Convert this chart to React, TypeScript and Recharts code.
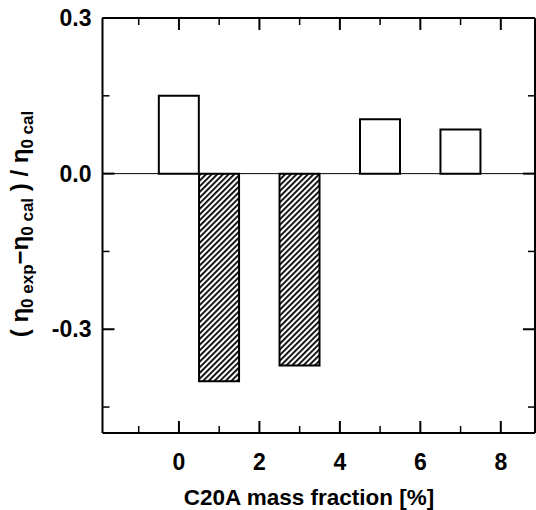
import React from 'react';
import { BarChart, Bar, Cell, XAxis, YAxis, ReferenceLine, Label } from 'recharts';

// C20A content [%] and relative deviation of zero-shear viscosity
const fractions: number[] = [0, 1, 3, 5, 7];
const deviations: number[] = [0.15, -0.40, -0.37, 0.105, 0.085];

const xTicks: number[] = [-1, 0, 1, 2, 3, 4, 5, 6, 7, 8];
const xLabels: number[] = [0, 2, 4, 6, 8];
const yTicks: number[] = [0.3, 0.15, 0, -0.15, -0.3, -0.45];
const yLabels: number[] = [0.3, 0, -0.3];

const data = fractions.map((f, i) => ({ x: f, v: deviations[i] }));

const FONT = 'Liberation Sans, Arial, sans-serif';

const isMajor = (v: number, list: number[]) => list.some(l => Math.abs(l - v) < 1e-9);

// ticks point into the plot, labels sit outside
const BottomTick = (props: any) => {
    const { x, y, payload } = props;
    const major = isMajor(payload.value, xLabels);
    return (
        <g>
            <line x1={x} x2={x} y1={y} y2={y - (major ? 12 : 7)} stroke="#000" strokeWidth={major ? 2 : 1.5} />
            {major && (
                <text x={x} y={y + 37} textAnchor="middle" fontFamily={FONT} fontWeight="bold" fontSize={23} fill="#000">
                    {payload.value}
                </text>
            )}
        </g>
    );
};

const TopTick = (props: any) => {
    const { x, y, payload } = props;
    const major = isMajor(payload.value, xLabels);
    return <line x1={x} x2={x} y1={y} y2={y + (major ? 12 : 7)} stroke="#000" strokeWidth={major ? 2 : 1.5} />;
};

const LeftTick = (props: any) => {
    const { x, y, payload } = props;
    const major = isMajor(payload.value, yLabels);
    return (
        <g>
            <line x1={x} x2={x + (major ? 12 : 7)} y1={y} y2={y} stroke="#000" strokeWidth={major ? 2 : 1.5} />
            {major && (
                <text x={x - 11} y={y + 8} textAnchor="end" fontFamily={FONT} fontWeight="bold" fontSize={23} fill="#000">
                    {payload.value.toFixed(1)}
                </text>
            )}
        </g>
    );
};

const RightTick = (props: any) => {
    const { x, y, payload } = props;
    const major = isMajor(payload.value, yLabels);
    return <line x1={x} x2={x - (major ? 12 : 7)} y1={y} y2={y} stroke="#000" strokeWidth={major ? 2 : 1.5} />;
};

const YTitle = () => (
    <text transform="translate(28,224) rotate(-90)" textAnchor="middle" fontFamily={FONT} fontWeight="bold" fontSize={24} fill="#000"
        style={{ whiteSpace: 'pre' }}>
        <tspan>( η</tspan>
        <tspan fontSize={17} dy={5}>0 exp</tspan>
        <tspan dy={-5}>−η</tspan>
        <tspan fontSize={17} dy={5}>0 cal</tspan>
        <tspan dy={-5}> ) / η</tspan>
        <tspan fontSize={17} dy={5}>0 cal</tspan>
    </text>
);

const XTitle = () => (
    <text x={309} y={505} textAnchor="middle" fontFamily={FONT} fontWeight="bold" fontSize={22.5} fill="#000">
        C20A mass fraction [%]
    </text>
);

const App: React.FC = () => {
    return (
        <div style={{ position: 'absolute', left: 0, top: 0, background: '#fff' }}>
            <BarChart width={536} height={510} data={data} margin={{ top: 17, right: 0, left: 101.5, bottom: 76 }}>
                <defs>
                    <pattern id="hatch" width={4} height={4} patternUnits="userSpaceOnUse" patternTransform="rotate(45)">
                        <rect x={0} y={0} width={4} height={4} fill="#fff" />
                        <rect x={0} y={0} width={1.8} height={4} fill="#000" />
                    </pattern>
                </defs>
                <XAxis dataKey="x" type="number" domain={[-1.9, 8.85]} allowDataOverflow ticks={xTicks} interval={0}
                    height={1} tickSize={0} tickMargin={0} tickLine={false} tick={<BottomTick />}
                    axisLine={{ stroke: '#000', strokeWidth: 2 }}>
                    <Label content={<XTitle />} />
                </XAxis>
                <XAxis xAxisId="top" orientation="top" dataKey="x" type="number" domain={[-1.9, 8.85]} allowDataOverflow
                    ticks={xTicks} interval={0} height={1} tickSize={0} tickMargin={0} tickLine={false} tick={<TopTick />}
                    axisLine={{ stroke: '#000', strokeWidth: 2 }} />
                <YAxis type="number" domain={[-0.5, 0.3]} allowDataOverflow ticks={yTicks} interval={0}
                    width={1} tickSize={0} tickMargin={0} tickLine={false} tick={<LeftTick />}
                    axisLine={{ stroke: '#000', strokeWidth: 2 }}>
                    <Label content={<YTitle />} />
                </YAxis>
                <YAxis yAxisId="right" orientation="right" type="number" domain={[-0.5, 0.3]} allowDataOverflow
                    ticks={yTicks} interval={0} width={1} tickSize={0} tickMargin={0} tickLine={false} tick={<RightTick />}
                    axisLine={{ stroke: '#000', strokeWidth: 2 }} />
                <ReferenceLine y={0} stroke="#000" strokeWidth={1} />
                <Bar dataKey="v" barSize={40} stroke="#000" strokeWidth={2} isAnimationActive={false}>
                    {data.map((d, i) => (
                        <Cell key={i} fill={d.v < 0 ? 'url(#hatch)' : '#fff'} />
                    ))}
                </Bar>
            </BarChart>
        </div>
    );
};

export default App;
